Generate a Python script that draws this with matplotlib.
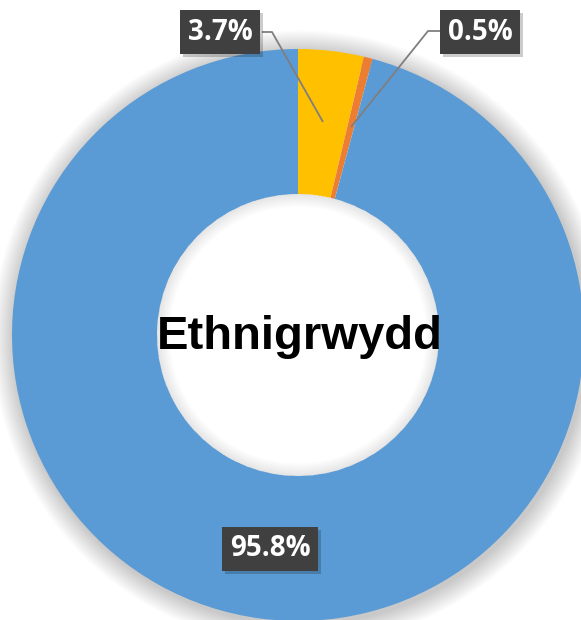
import matplotlib
matplotlib.use("Agg")
import matplotlib.pyplot as plt
from matplotlib.patches import Wedge
import matplotlib.patheffects as pe

# Data
categories = ["Group A", "Group B", "Group C"]
values = [3.7, 0.5, 95.8]
colors = ["#FFC000", "#ED7D31", "#5B9BD5"]
center_title = "Ethnigrwydd"
label_texts = [f"{v}%" for v in values]

W, H = 581, 620
fig = plt.figure(figsize=(W / 100, H / 100), dpi=100)
ax = fig.add_axes([0, 0, 1, 1])

cx, cy = 298, H - 335
R = 286
r_in = 141

# soft outer shadow (annuli only outside the ring)
N = 18
for i in range(N, 0, -1):
    ro = R + i * 1.2
    ax.add_patch(Wedge((cx + 2, cy - 3), ro, 0, 360, width=ro - (R - 10),
                       facecolor="#000000", edgecolor="none", alpha=0.012, zorder=0))

ax.pie(values, colors=colors, startangle=90, counterclock=False,
       radius=R, center=(cx, cy), frame=True,
       wedgeprops=dict(width=R - r_in, edgecolor="none", linewidth=0, zorder=1))
ax.set_xlim(0, W)
ax.set_ylim(0, H)
ax.set_aspect("equal")
ax.axis("off")

# inner hole shading
for i in range(1, 14):
    ax.add_patch(Wedge((cx, cy), r_in, 0, 360, width=i * 1.0,
                       facecolor="#000000", edgecolor="none", alpha=0.008, zorder=3))

ax.text(cx + 2, H - 349, center_title, ha="center", va="baseline",
        fontsize=34, fontweight="bold", family="Liberation Sans", color="black", zorder=5)

# labels (box centers in pixel coords) and leader lines
label_pos = [(220, H - 32), (480, H - 32), (270, H - 549)]
leaders = [
    [(262, H - 32), (272, H - 32), (323, H - 122)],
    [(440, H - 31), (428, H - 31), (351, H - 127)],
    None,
]
for txt, (lx, ly), ld in zip(label_texts, label_pos, leaders):
    if ld is not None:
        xs = [p[0] for p in ld]
        ys = [p[1] for p in ld]
        ax.plot(xs, ys, color="#7F7F7F", lw=1.3, zorder=4, solid_capstyle="butt")
    t = ax.text(lx, ly, txt, ha="center", va="center", fontsize=20,
                fontweight="bold", family="Open Sans", color="white", zorder=6,
                bbox=dict(boxstyle="square,pad=0.28", facecolor="#404040",
                          edgecolor="none"))
    t.get_bbox_patch().set_path_effects([
        pe.withSimplePatchShadow(offset=(2, -2), shadow_rgbFace="#000000", alpha=0.2),
        pe.Normal()])

fig.savefig("out.png", dpi=100)
